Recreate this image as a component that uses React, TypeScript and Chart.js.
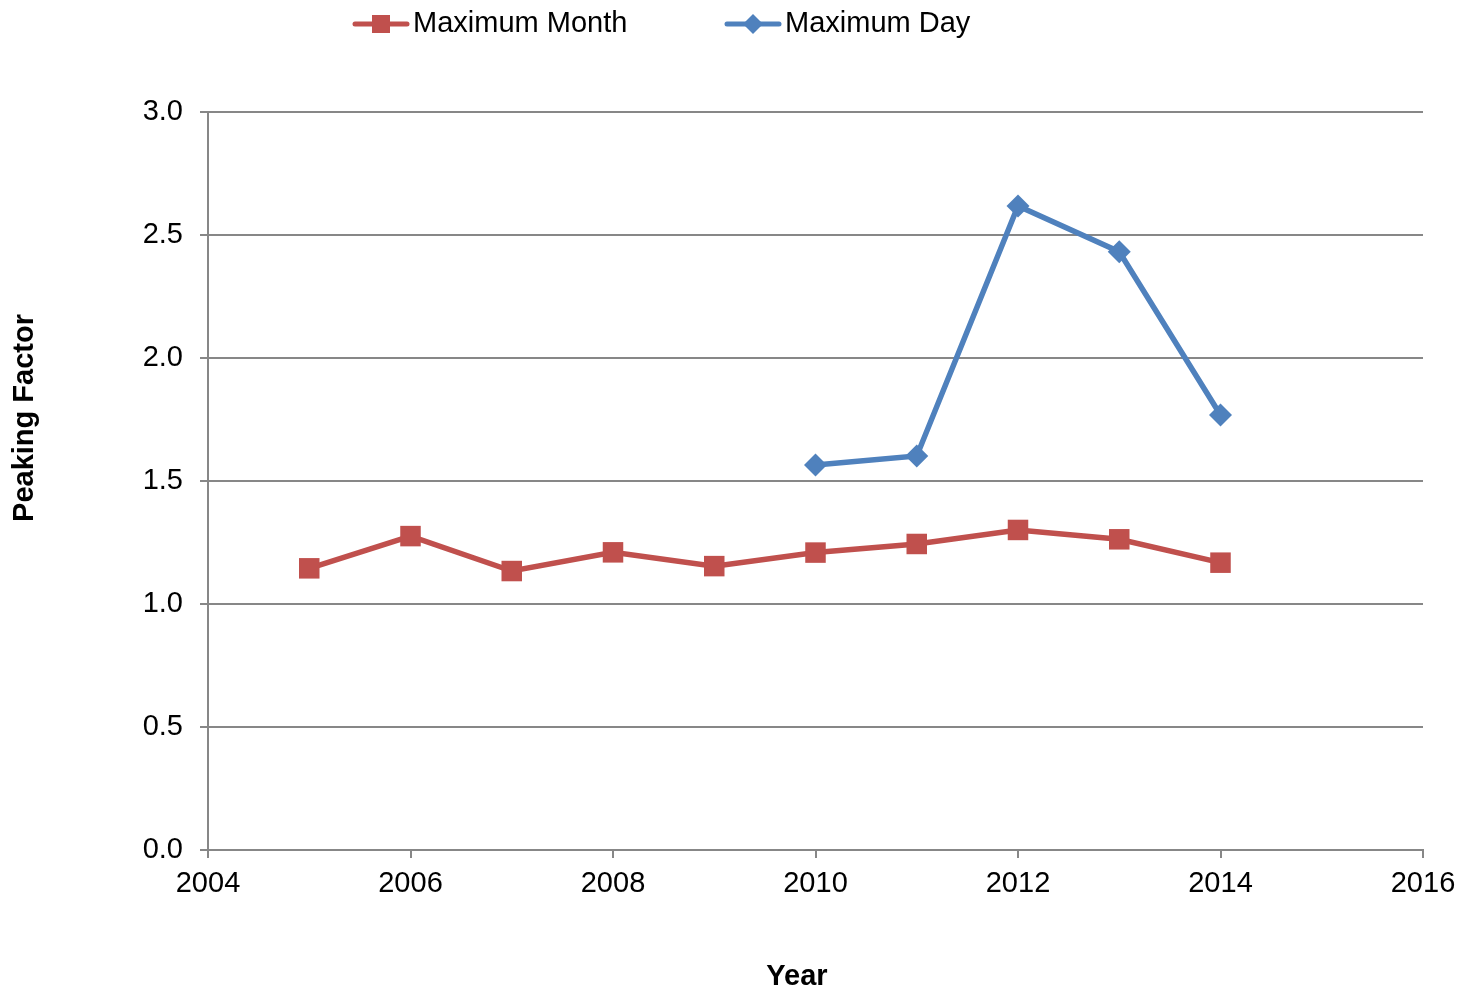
import React, { useEffect, useRef } from "react";
import { Chart, registerables } from "chart.js";

Chart.register(...registerables);

const monthYears = [2005, 2006, 2007, 2008, 2009, 2010, 2011, 2012, 2013, 2014];
const maxMonth = [1.145, 1.276, 1.134, 1.21, 1.154, 1.209, 1.244, 1.301, 1.263, 1.168];
const dayYears = [2010, 2011, 2012, 2013, 2014];
const maxDay = [1.565, 1.602, 2.618, 2.432, 1.768];
const seriesNames = ["Maximum Month", "Maximum Day"];
const xTitle = "Year";
const yTitle = "Peaking Factor";

const RED = "#C0504D";
const BLUE = "#4F81BD";
const GRID = "#878787";
const FONT = '"Liberation Sans", Arial, sans-serif';

const overlay = {
  id: "overlay",
  afterDraw(chart: any) {
    const ctx = chart.ctx as CanvasRenderingContext2D;
    ctx.save();
    ctx.fillStyle = "#000";
    ctx.textBaseline = "middle";
    // axis titles
    ctx.font = `bold 29px ${FONT}`;
    ctx.textAlign = "center";
    ctx.fillText(xTitle, 797, 977);
    ctx.save();
    ctx.translate(25, 418);
    ctx.rotate(-Math.PI / 2);
    ctx.fillText(yTitle, 0, 0);
    ctx.restore();
    // legend
    const starts = [355, 727];
    chart.data.datasets.forEach((ds: any, i: number) => {
      const x0 = starts[i];
      const y = 24;
      ctx.strokeStyle = ds.borderColor;
      ctx.lineWidth = 5;
      ctx.lineCap = "round";
      ctx.beginPath();
      ctx.moveTo(x0, y);
      ctx.lineTo(x0 + 52, y);
      ctx.stroke();
      ctx.fillStyle = ds.backgroundColor;
      const cx = x0 + 26;
      ctx.beginPath();
      if (ds.pointStyle === "rect") {
        ctx.rect(cx - 9, y - 9, 18, 18);
      } else {
        ctx.moveTo(cx, y - 10);
        ctx.lineTo(cx + 10, y);
        ctx.lineTo(cx, y + 10);
        ctx.lineTo(cx - 10, y);
        ctx.closePath();
      }
      ctx.fill();
      ctx.fillStyle = "#000";
      ctx.font = `29px ${FONT}`;
      ctx.textAlign = "left";
      ctx.fillText(ds.label, x0 + 58, y);
    });
    ctx.restore();
  },
};

export default function App() {
  const ref = useRef<HTMLCanvasElement>(null);
  useEffect(() => {
    if (!ref.current) return;
    const chart = new Chart(ref.current, {
      type: "line",
      data: {
        datasets: [
          {
            label: seriesNames[0],
            data: monthYears.map((x, i) => ({ x, y: maxMonth[i] })),
            borderColor: RED,
            backgroundColor: RED,
            borderWidth: 5.5,
            pointStyle: "rect",
            pointRadius: 14.5,
            pointBorderWidth: 0,
            pointBackgroundColor: RED,
            tension: 0,
          },
          {
            label: seriesNames[1],
            data: dayYears.map((x, i) => ({ x, y: maxDay[i] })),
            borderColor: BLUE,
            backgroundColor: BLUE,
            borderWidth: 5.5,
            pointStyle: "rectRot",
            pointRadius: 11.5,
            pointBorderWidth: 0,
            pointBackgroundColor: BLUE,
            tension: 0,
          },
        ],
      },
      options: {
        responsive: false,
        animation: false,
        layout: { padding: { left: 0, right: 40, top: 112, bottom: 0 } },
        plugins: {
          legend: { display: false },
          tooltip: { enabled: false },
        },
        scales: {
          x: {
            type: "linear",
            min: 2004,
            max: 2016,
            afterFit: (s: any) => {
              s.height = 143;
              s.paddingLeft = 0;
              s.paddingRight = 0;
            },
            ticks: {
              stepSize: 2,
              padding: 9,
              color: "#000",
              font: { family: FONT, size: 29 },
              maxRotation: 0,
              callback: (v: any) => String(v),
            },
            grid: {
              drawOnChartArea: false,
              drawTicks: true,
              tickLength: 8,
              color: GRID,
              lineWidth: 2,
            },
            border: { display: true, color: GRID, width: 2 },
          },
          y: {
            type: "linear",
            min: 0,
            max: 3,
            afterFit: (s: any) => {
              s.width = 208;
              s.paddingTop = 0;
              s.paddingBottom = 0;
            },
            ticks: {
              stepSize: 0.5,
              padding: 17,
              color: "#000",
              font: { family: FONT, size: 29 },
              callback: (v: any) => Number(v).toFixed(1),
            },
            grid: {
              drawTicks: true,
              tickLength: 8,
              color: GRID,
              lineWidth: 2,
            },
            border: { display: true, color: GRID, width: 2 },
          },
        },
      },
      plugins: [overlay],
    });
    return () => chart.destroy();
  }, []);
  return (
    <div style={{ position: "absolute", left: 0, top: 0, width: 1463, height: 993, background: "#fff" }}>
      <canvas ref={ref} width={1463} height={993} style={{ display: "block" }} />
    </div>
  );
}
